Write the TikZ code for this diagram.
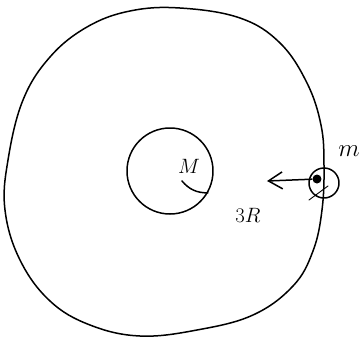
\documentclass[tikz,border=0pt]{standalone}
\usetikzlibrary{arrows.meta,calc}

\begin{document}
\begin{tikzpicture}[x=1pt,y=-1pt,line width=1.5pt,line cap=round,line join=round,
    lbl/.style={font=\huge,inner sep=0pt},
    ring/.style={draw,circle,inner sep=0pt}]
\useasboundingbox (0,0) rectangle (360,338);

% outer orbit
\draw plot[smooth cycle,tension=0.65] coordinates {(180,8) (240,18) (280,43) (307,83) (321,125) (324,165) (322,210) (313,251) (293,286) (253,315) (197,330) (140,336) (90,325) (50,301) (20,260) (5,210) (8,160) (23,100) (50,57) (87,27) (130,11)};

\node[ring,minimum size=86pt] (planet) at (170,171) {};
\node[lbl] (M) at (189,166) {$M$};
\coordinate (rstart) at (182,181);
\draw (rstart) to[bend right=25] (planet.-30);

\node[ring,minimum size=30pt] (moon) at (324,183) {};
\node[fill,circle,inner sep=0pt,minimum size=9pt] (sat) at (317,179) {};
\coordinate (tip) at (267,181);
\draw[-{Straight Barb[length=14pt,width=17pt]}] (sat) -- (tip);
\coordinate (x1) at (309,200);
\coordinate (x2) at (328,186);
\draw[line width=0.9pt] (x1) -- (x2);

\node[lbl,font=\Huge] (m) at (349,151) {$m$};
\node[lbl] (d) at (248,215) {$3R$};

\end{tikzpicture}
\end{document}
